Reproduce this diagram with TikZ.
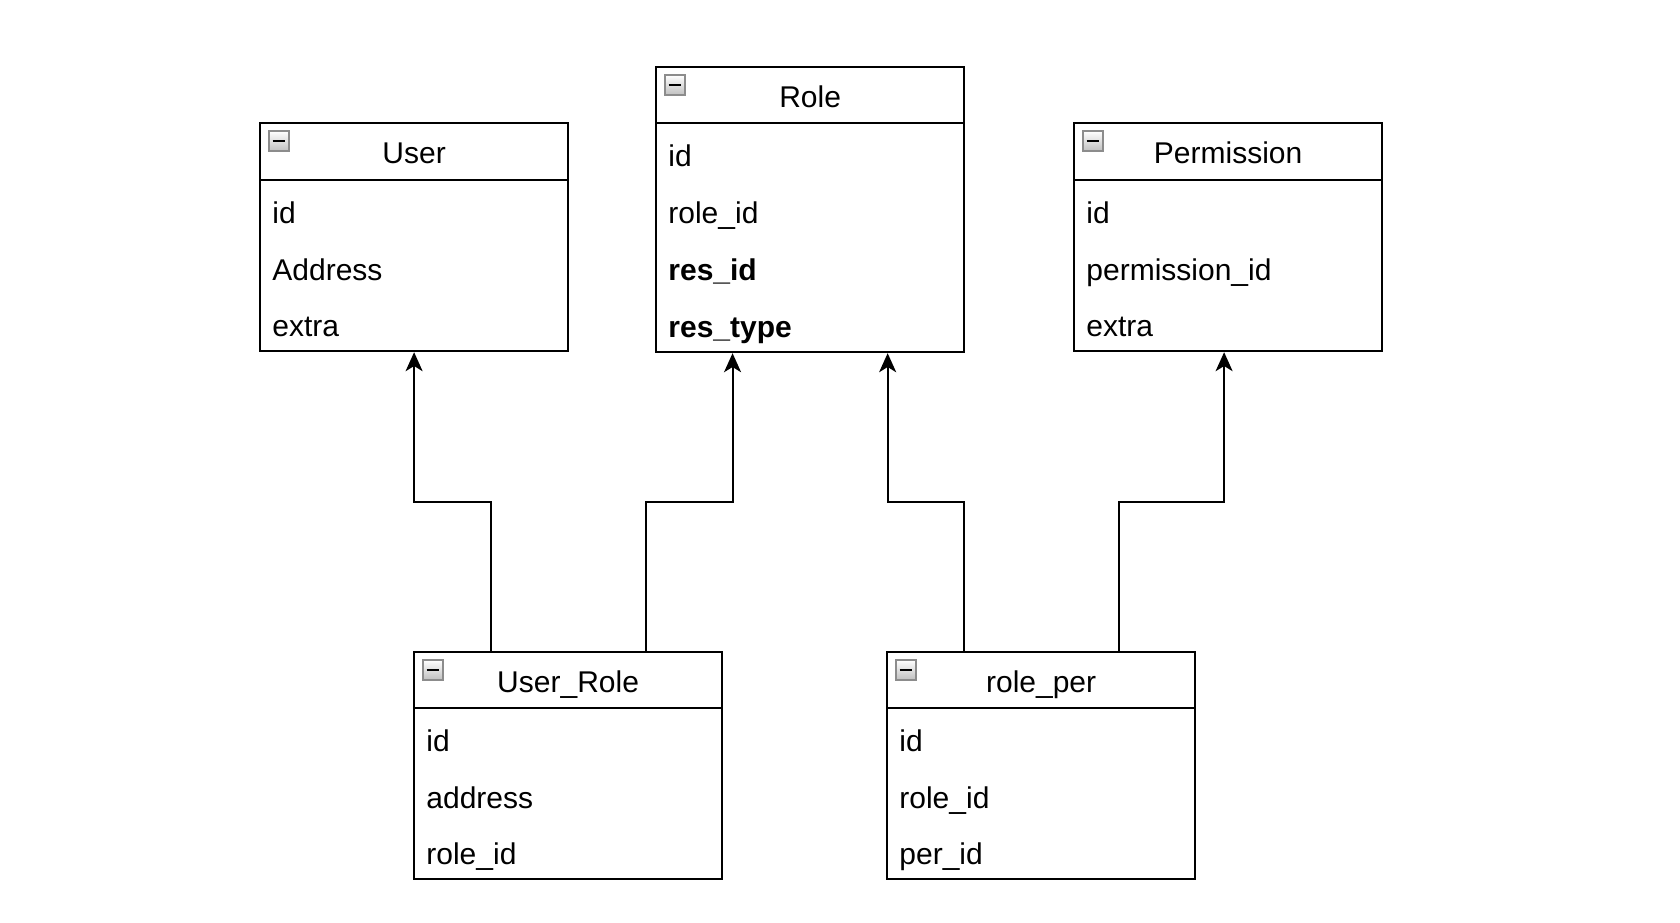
\documentclass[tikz,border=0pt]{standalone}
\usepackage{fontspec}
\setmainfont{Liberation Sans}
\usetikzlibrary{arrows.meta,calc}
\begin{document}
\begin{tikzpicture}[x=0.5pt,y=-0.5pt,
  tbl/.style={draw, line width=1.1pt, minimum width=154pt, inner sep=0pt, anchor=north west, fill=white},
  ttl/.style={anchor=base, inner sep=0pt, font=\fontsize{15pt}{18pt}\selectfont},
  fld/.style={anchor=base west, inner sep=0pt, font=\fontsize{15pt}{18pt}\selectfont},
  divider/.style={line width=0.9pt},
  icon/.style={draw=black!45, line width=0.9pt, top color=white, bottom color=black!25,
    minimum size=10pt, inner sep=0pt,
    path picture={\draw[line width=1.4pt, black] ([xshift=1.8pt]path picture bounding box.west) -- ([xshift=-1.8pt]path picture bounding box.east);}},
  conn/.style={line width=1pt, -{Stealth[length=9.5pt, width=8.5pt, inset=2.6pt]}}
]
\useasboundingbox (0,0) rectangle (1680,922);

% ---- tables ----
% User
\node[tbl, minimum height=114pt] (u) at (259,122) {};
\draw[divider] ($(u.north west)+(0,58)$) -- ($(u.north east)+(0,58)$);
\node[icon] (u-ic) at ($(u.north west)+(20,19)$) {};
\node[ttl] (u-t) at ($(u.north)+(0,41)$) {User};
\node[fld] (u-1) at ($(u.north west)+(13,101)$) {id};
\node[fld] (u-2) at ($(u.north west)+(13,158)$) {Address};
\node[fld] (u-3) at ($(u.north west)+(13,214)$) {extra};

% Role
\node[tbl, minimum height=142.5pt] (r) at (655,66) {};
\draw[divider] ($(r.north west)+(0,57)$) -- ($(r.north east)+(0,57)$);
\node[icon] (r-ic) at ($(r.north west)+(20,19)$) {};
\node[ttl] (r-t) at ($(r.north)+(0,41)$) {Role};
\node[fld] (r-1) at ($(r.north west)+(13,100)$) {id};
\node[fld] (r-2) at ($(r.north west)+(13,157)$) {role\_id};
\node[fld] (r-3) at ($(r.north west)+(13,214)$) {\bfseries res\_id};
\node[fld] (r-4) at ($(r.north west)+(13,271)$) {\bfseries res\_type};

% Permission
\node[tbl, minimum height=114pt] (p) at (1073,122) {};
\draw[divider] ($(p.north west)+(0,58)$) -- ($(p.north east)+(0,58)$);
\node[icon] (p-ic) at ($(p.north west)+(20,19)$) {};
\node[ttl] (p-t) at ($(p.north)+(0,41)$) {Permission};
\node[fld] (p-1) at ($(p.north west)+(13,101)$) {id};
\node[fld] (p-2) at ($(p.north west)+(13,158)$) {permission\_id};
\node[fld] (p-3) at ($(p.north west)+(13,214)$) {extra};

% User_Role
\node[tbl, minimum height=113.5pt] (ur) at (413,651) {};
\draw[divider] ($(ur.north west)+(0,57)$) -- ($(ur.north east)+(0,57)$);
\node[icon] (ur-ic) at ($(ur.north west)+(20,19)$) {};
\node[ttl] (ur-t) at ($(ur.north)+(0,41)$) {User\_Role};
\node[fld] (ur-1) at ($(ur.north west)+(13,100)$) {id};
\node[fld] (ur-2) at ($(ur.north west)+(13,157)$) {address};
\node[fld] (ur-3) at ($(ur.north west)+(13,213)$) {role\_id};

% role_per
\node[tbl, minimum height=113.5pt] (rp) at (886,651) {};
\draw[divider] ($(rp.north west)+(0,57)$) -- ($(rp.north east)+(0,57)$);
\node[icon] (rp-ic) at ($(rp.north west)+(20,19)$) {};
\node[ttl] (rp-t) at ($(rp.north)+(0,41)$) {role\_per};
\node[fld] (rp-1) at ($(rp.north west)+(13,100)$) {id};
\node[fld] (rp-2) at ($(rp.north west)+(13,157)$) {role\_id};
\node[fld] (rp-3) at ($(rp.north west)+(13,213)$) {per\_id};

% ---- connector end points ----
\coordinate (mid) at (0,502);
\coordinate (ur-a) at ($(ur.north west)!0.25!(ur.north east)$);
\coordinate (ur-b) at ($(ur.north west)!0.75!(ur.north east)$);
\coordinate (rp-a) at ($(rp.north west)!0.25!(rp.north east)$);
\coordinate (rp-b) at ($(rp.north west)!0.75!(rp.north east)$);
\coordinate (r-a) at ($(r.south west)!0.25!(r.south east)$);
\coordinate (r-b) at ($(r.south west)!0.75!(r.south east)$);
\coordinate (p-in) at ($(p.south)+(-4,0)$);

% ---- connectors ----
\draw[conn] (ur-a) -- (ur-a |- mid) -| (u.south);
\draw[conn] (ur-b) -- (ur-b |- mid) -| (r-a);
\draw[conn] (rp-a) -- (rp-a |- mid) -| (r-b);
\draw[conn] (rp-b) -- (rp-b |- mid) -| (p-in);
\end{tikzpicture}
\end{document}
